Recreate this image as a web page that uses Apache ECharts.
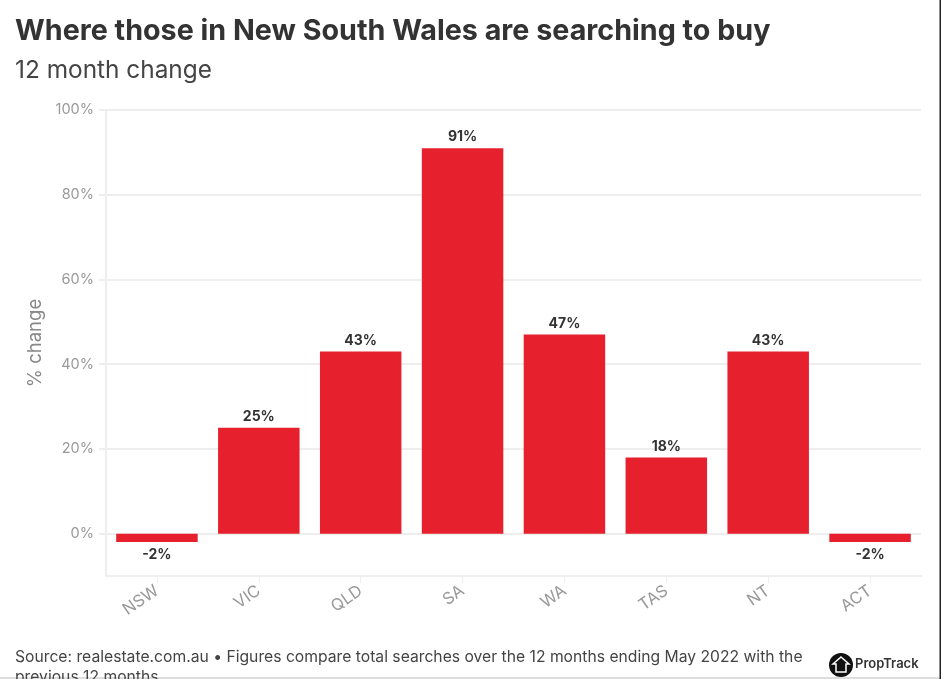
<!DOCTYPE html>
<html>
<head>
<meta charset="utf-8">
<style>
html,body{margin:0;padding:0;background:#fff;overflow:hidden;}
#main{width:941px;height:679px;}
</style>
<script src="https://cdn.jsdelivr.net/npm/echarts@6/dist/echarts.min.js"></script>
</head>
<body>
<div id="main"></div>
<script>
var categories = ['NSW', 'VIC', 'QLD', 'SA', 'WA', 'TAS', 'NT', 'ACT'];
var changeValues = [-2, 25, 43, 91, 47, 18, 43, -2];
var yTicks = [0, 20, 40, 60, 80, 100];

var fontName = 'Inter, "Open Sans", sans-serif';
var barChart = echarts.init(document.getElementById('main'), null, {renderer: 'canvas'});
var option = {
    backgroundColor: '#fff',
    animation: false,
    textStyle: {fontFamily: fontName},
    title: [
        {
            text: 'Where those in New South Wales are searching to buy',
            left: 15, top: 17, padding: 0,
            textStyle: {fontFamily: fontName, fontSize: 28.7, fontWeight: 700, color: '#333'}
        },
        {
            text: '12 month change',
            left: 15, top: 59, padding: 0,
            textStyle: {fontFamily: fontName, fontSize: 24.4, fontWeight: 400, color: '#444'}
        },
        {
            text: 'Source: realestate.com.au \u2022 Figures compare total searches over the 12 months ending May 2022 with the\nprevious 12 months',
            left: 15, top: 647, padding: 0,
            textStyle: {fontFamily: fontName, fontSize: 15.7, fontWeight: 400, color: '#444', lineHeight: 20}
        }
    ],
    grid: {left: 106, right: 20, top: 110, bottom: 103},
    xAxis: {
        type: 'category',
        data: categories,
        position: 'bottom',
        axisLine: {onZero: false, lineStyle: {color: '#eee', width: 2}},
        axisTick: {show: true, alignWithLabel: true, length: 7, lineStyle: {color: '#eee', width: 1}},
        axisLabel: {interval: 0, rotate: 35, margin: 13, fontSize: 16.5, color: '#999', fontFamily: fontName}
    },
    yAxis: {
        type: 'value',
        min: -10,
        max: 100,
        name: '% change',
        nameLocation: 'middle',
        nameGap: 61,
        nameTextStyle: {fontSize: 18.5, color: '#888', fontFamily: fontName},
        axisLine: {show: true, lineStyle: {color: '#eee', width: 2}},
        axisTick: {show: true, length: 7, customValues: yTicks, lineStyle: {color: '#eee', width: 2}},
        axisLabel: {
            margin: 12, fontSize: 14.5, color: '#999', fontFamily: fontName,
            padding: [0, 0, 2, 0],
            customValues: yTicks,
            formatter: '{value}%'
        },
        splitLine: {show: true, lineStyle: {color: '#eee', width: 2}}
    },
    series: [{
        name: '12 month change',
        type: 'bar',
        data: changeValues,
        barWidth: 81.5,
        itemStyle: {color: '#e6202c'},
        label: {
            show: true,
            position: 'outside',
            distance: 5,
            offset: [0, 1],
            formatter: '{c}%',
            fontSize: 14,
            fontWeight: 700,
            color: '#333',
            fontFamily: fontName
        }
    }],
    graphic: [
        {type: 'circle', shape: {cx: 841, cy: 665, r: 12}, style: {fill: '#111'}},
        {type: 'polygon', shape: {points: [[841, 657], [849, 664], [846, 664], [846, 672], [836, 672], [836, 664], [833, 664]]},
            style: {fill: '#111', stroke: '#fff', lineWidth: 1.5}},
        {type: 'text', left: 855, top: 658, style: {text: 'PropTrack', fontFamily: fontName, fontSize: 13, fontWeight: 600, fill: '#333'}},
        {type: 'rect', shape: {x: 0, y: 677, width: 941, height: 2}, style: {fill: '#ddd'}},
        {type: 'rect', shape: {x: 939.5, y: 0, width: 1.5, height: 679}, style: {fill: '#222'}}
    ]
};
barChart.setOption(option);
</script>
</body>
</html>
